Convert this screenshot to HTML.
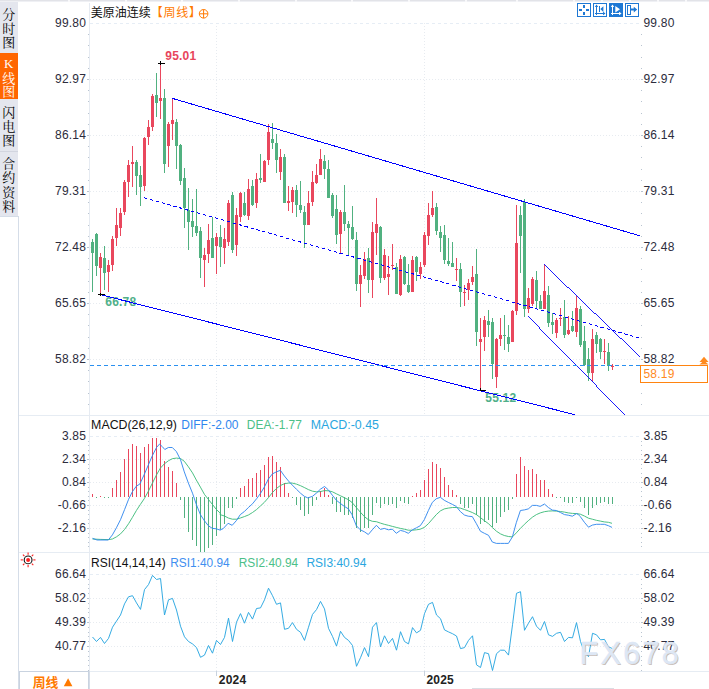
<!DOCTYPE html>
<html><head><meta charset="utf-8"><title>chart</title>
<style>html,body{margin:0;padding:0;background:#fff;overflow:hidden}body{width:709px;height:689px;position:relative}</style></head>
<body>
<svg width="709" height="689" viewBox="0 0 709 689" style="position:absolute;left:0;top:0">
<g shape-rendering="crispEdges">
<rect x="0" y="0" width="709" height="1" fill="#e2e3e8"/><rect x="0" y="1" width="709" height="1" fill="#eff0f4"/>
<rect x="68" y="0" width="2" height="2" fill="#f8f8fa"/>
<rect x="125" y="0" width="2" height="2" fill="#f8f8fa"/>
<rect x="181" y="0" width="2" height="2" fill="#f8f8fa"/>
<rect x="238" y="0" width="2" height="2" fill="#f8f8fa"/>
<rect x="295" y="0" width="2" height="2" fill="#f8f8fa"/>
<rect x="351" y="0" width="2" height="2" fill="#f8f8fa"/>
<rect x="408" y="0" width="2" height="2" fill="#f8f8fa"/>
<rect x="465" y="0" width="2" height="2" fill="#f8f8fa"/>
<rect x="516" y="0" width="2" height="2" fill="#f8f8fa"/>
<rect x="573" y="0" width="2" height="2" fill="#f8f8fa"/>
<rect x="601" y="0" width="2" height="2" fill="#f8f8fa"/>
<rect x="629" y="0" width="2" height="2" fill="#f8f8fa"/>
<rect x="657" y="0" width="2" height="2" fill="#f8f8fa"/>
<rect x="685" y="0" width="2" height="2" fill="#f8f8fa"/>
<rect x="0" y="2" width="18" height="214" fill="#e4e6ee"/>
<rect x="0" y="53" width="18" height="46" fill="#ff6600"/>
<rect x="0" y="151" width="18" height="1" fill="#d2d5df"/>
<rect x="18" y="216" width="1" height="473" fill="#d5dde8"/>
<rect x="0" y="216" width="18" height="1" fill="#d5dde8"/>
<rect x="19" y="415" width="690" height="1" fill="#e6ecf3"/>
<rect x="19" y="552" width="690" height="1" fill="#e6ecf3"/>
<rect x="19" y="671" width="690" height="1" fill="#e6ecf3"/>
<rect x="89" y="3" width="1" height="668" fill="#e6ebf2"/>
<rect x="89" y="671" width="1" height="18" fill="#d5dde8"/>
</g>
<line x1="90" y1="23.5" x2="641" y2="23.5" stroke="#e6edf5" stroke-width="1" stroke-dasharray="3 3" shape-rendering="crispEdges"/>
<line x1="90" y1="79.5" x2="641" y2="79.5" stroke="#e7ebf0" stroke-width="1" stroke-dasharray="1 2" shape-rendering="crispEdges"/>
<line x1="90" y1="135.5" x2="641" y2="135.5" stroke="#e7ebf0" stroke-width="1" stroke-dasharray="1 2" shape-rendering="crispEdges"/>
<line x1="90" y1="191.5" x2="641" y2="191.5" stroke="#e7ebf0" stroke-width="1" stroke-dasharray="1 2" shape-rendering="crispEdges"/>
<line x1="90" y1="247.5" x2="641" y2="247.5" stroke="#e7ebf0" stroke-width="1" stroke-dasharray="1 2" shape-rendering="crispEdges"/>
<line x1="90" y1="303.5" x2="641" y2="303.5" stroke="#e7ebf0" stroke-width="1" stroke-dasharray="1 2" shape-rendering="crispEdges"/>
<line x1="90" y1="359.5" x2="641" y2="359.5" stroke="#e7ebf0" stroke-width="1" stroke-dasharray="1 2" shape-rendering="crispEdges"/>
<line x1="90" y1="436.5" x2="641" y2="436.5" stroke="#e6edf5" stroke-width="1" stroke-dasharray="3 3" shape-rendering="crispEdges"/>
<line x1="90" y1="459.5" x2="641" y2="459.5" stroke="#e7ebf0" stroke-width="1" stroke-dasharray="1 2" shape-rendering="crispEdges"/>
<line x1="90" y1="482.5" x2="641" y2="482.5" stroke="#e7ebf0" stroke-width="1" stroke-dasharray="1 2" shape-rendering="crispEdges"/>
<line x1="90" y1="505.5" x2="641" y2="505.5" stroke="#e7ebf0" stroke-width="1" stroke-dasharray="1 2" shape-rendering="crispEdges"/>
<line x1="90" y1="528.5" x2="641" y2="528.5" stroke="#e7ebf0" stroke-width="1" stroke-dasharray="1 2" shape-rendering="crispEdges"/>
<line x1="90" y1="574.5" x2="641" y2="574.5" stroke="#e6edf5" stroke-width="1" stroke-dasharray="3 3" shape-rendering="crispEdges"/>
<line x1="90" y1="598.5" x2="641" y2="598.5" stroke="#e7ebf0" stroke-width="1" stroke-dasharray="1 2" shape-rendering="crispEdges"/>
<line x1="90" y1="622.5" x2="641" y2="622.5" stroke="#e7ebf0" stroke-width="1" stroke-dasharray="1 2" shape-rendering="crispEdges"/>
<line x1="90" y1="646.5" x2="641" y2="646.5" stroke="#e7ebf0" stroke-width="1" stroke-dasharray="1 2" shape-rendering="crispEdges"/>
<line x1="216.5" y1="23" x2="216.5" y2="415" stroke="#e7ebf0" stroke-width="1" stroke-dasharray="1 2" shape-rendering="crispEdges"/>
<line x1="216.5" y1="436" x2="216.5" y2="552" stroke="#e7ebf0" stroke-width="1" stroke-dasharray="1 2" shape-rendering="crispEdges"/>
<line x1="216.5" y1="574" x2="216.5" y2="671" stroke="#e7ebf0" stroke-width="1" stroke-dasharray="1 2" shape-rendering="crispEdges"/>
<rect x="216" y="671" width="1" height="5" fill="#c9d3df" shape-rendering="crispEdges"/>
<line x1="424.5" y1="23" x2="424.5" y2="415" stroke="#e7ebf0" stroke-width="1" stroke-dasharray="1 2" shape-rendering="crispEdges"/>
<line x1="424.5" y1="436" x2="424.5" y2="552" stroke="#e7ebf0" stroke-width="1" stroke-dasharray="1 2" shape-rendering="crispEdges"/>
<line x1="424.5" y1="574" x2="424.5" y2="671" stroke="#e7ebf0" stroke-width="1" stroke-dasharray="1 2" shape-rendering="crispEdges"/>
<rect x="424" y="671" width="1" height="5" fill="#c9d3df" shape-rendering="crispEdges"/>
<rect x="88" y="34" width="1" height="1" fill="#b9c4d0" shape-rendering="crispEdges"/>
<rect x="641" y="34" width="1" height="1" fill="#b9c4d0" shape-rendering="crispEdges"/>
<rect x="88" y="45" width="1" height="1" fill="#b9c4d0" shape-rendering="crispEdges"/>
<rect x="641" y="45" width="1" height="1" fill="#b9c4d0" shape-rendering="crispEdges"/>
<rect x="88" y="57" width="1" height="1" fill="#b9c4d0" shape-rendering="crispEdges"/>
<rect x="641" y="57" width="1" height="1" fill="#b9c4d0" shape-rendering="crispEdges"/>
<rect x="88" y="68" width="1" height="1" fill="#b9c4d0" shape-rendering="crispEdges"/>
<rect x="641" y="68" width="1" height="1" fill="#b9c4d0" shape-rendering="crispEdges"/>
<rect x="88" y="79" width="1" height="1" fill="#b9c4d0" shape-rendering="crispEdges"/>
<rect x="641" y="79" width="1" height="1" fill="#b9c4d0" shape-rendering="crispEdges"/>
<rect x="88" y="90" width="1" height="1" fill="#b9c4d0" shape-rendering="crispEdges"/>
<rect x="641" y="90" width="1" height="1" fill="#b9c4d0" shape-rendering="crispEdges"/>
<rect x="88" y="101" width="1" height="1" fill="#b9c4d0" shape-rendering="crispEdges"/>
<rect x="641" y="101" width="1" height="1" fill="#b9c4d0" shape-rendering="crispEdges"/>
<rect x="88" y="113" width="1" height="1" fill="#b9c4d0" shape-rendering="crispEdges"/>
<rect x="641" y="113" width="1" height="1" fill="#b9c4d0" shape-rendering="crispEdges"/>
<rect x="88" y="124" width="1" height="1" fill="#b9c4d0" shape-rendering="crispEdges"/>
<rect x="641" y="124" width="1" height="1" fill="#b9c4d0" shape-rendering="crispEdges"/>
<rect x="88" y="135" width="1" height="1" fill="#b9c4d0" shape-rendering="crispEdges"/>
<rect x="641" y="135" width="1" height="1" fill="#b9c4d0" shape-rendering="crispEdges"/>
<rect x="88" y="146" width="1" height="1" fill="#b9c4d0" shape-rendering="crispEdges"/>
<rect x="641" y="146" width="1" height="1" fill="#b9c4d0" shape-rendering="crispEdges"/>
<rect x="88" y="157" width="1" height="1" fill="#b9c4d0" shape-rendering="crispEdges"/>
<rect x="641" y="157" width="1" height="1" fill="#b9c4d0" shape-rendering="crispEdges"/>
<rect x="88" y="169" width="1" height="1" fill="#b9c4d0" shape-rendering="crispEdges"/>
<rect x="641" y="169" width="1" height="1" fill="#b9c4d0" shape-rendering="crispEdges"/>
<rect x="88" y="180" width="1" height="1" fill="#b9c4d0" shape-rendering="crispEdges"/>
<rect x="641" y="180" width="1" height="1" fill="#b9c4d0" shape-rendering="crispEdges"/>
<rect x="88" y="191" width="1" height="1" fill="#b9c4d0" shape-rendering="crispEdges"/>
<rect x="641" y="191" width="1" height="1" fill="#b9c4d0" shape-rendering="crispEdges"/>
<rect x="88" y="202" width="1" height="1" fill="#b9c4d0" shape-rendering="crispEdges"/>
<rect x="641" y="202" width="1" height="1" fill="#b9c4d0" shape-rendering="crispEdges"/>
<rect x="88" y="213" width="1" height="1" fill="#b9c4d0" shape-rendering="crispEdges"/>
<rect x="641" y="213" width="1" height="1" fill="#b9c4d0" shape-rendering="crispEdges"/>
<rect x="88" y="225" width="1" height="1" fill="#b9c4d0" shape-rendering="crispEdges"/>
<rect x="641" y="225" width="1" height="1" fill="#b9c4d0" shape-rendering="crispEdges"/>
<rect x="88" y="236" width="1" height="1" fill="#b9c4d0" shape-rendering="crispEdges"/>
<rect x="641" y="236" width="1" height="1" fill="#b9c4d0" shape-rendering="crispEdges"/>
<rect x="88" y="247" width="1" height="1" fill="#b9c4d0" shape-rendering="crispEdges"/>
<rect x="641" y="247" width="1" height="1" fill="#b9c4d0" shape-rendering="crispEdges"/>
<rect x="88" y="258" width="1" height="1" fill="#b9c4d0" shape-rendering="crispEdges"/>
<rect x="641" y="258" width="1" height="1" fill="#b9c4d0" shape-rendering="crispEdges"/>
<rect x="88" y="269" width="1" height="1" fill="#b9c4d0" shape-rendering="crispEdges"/>
<rect x="641" y="269" width="1" height="1" fill="#b9c4d0" shape-rendering="crispEdges"/>
<rect x="88" y="281" width="1" height="1" fill="#b9c4d0" shape-rendering="crispEdges"/>
<rect x="641" y="281" width="1" height="1" fill="#b9c4d0" shape-rendering="crispEdges"/>
<rect x="88" y="292" width="1" height="1" fill="#b9c4d0" shape-rendering="crispEdges"/>
<rect x="641" y="292" width="1" height="1" fill="#b9c4d0" shape-rendering="crispEdges"/>
<rect x="88" y="303" width="1" height="1" fill="#b9c4d0" shape-rendering="crispEdges"/>
<rect x="641" y="303" width="1" height="1" fill="#b9c4d0" shape-rendering="crispEdges"/>
<rect x="88" y="314" width="1" height="1" fill="#b9c4d0" shape-rendering="crispEdges"/>
<rect x="641" y="314" width="1" height="1" fill="#b9c4d0" shape-rendering="crispEdges"/>
<rect x="88" y="325" width="1" height="1" fill="#b9c4d0" shape-rendering="crispEdges"/>
<rect x="641" y="325" width="1" height="1" fill="#b9c4d0" shape-rendering="crispEdges"/>
<rect x="88" y="337" width="1" height="1" fill="#b9c4d0" shape-rendering="crispEdges"/>
<rect x="641" y="337" width="1" height="1" fill="#b9c4d0" shape-rendering="crispEdges"/>
<rect x="88" y="348" width="1" height="1" fill="#b9c4d0" shape-rendering="crispEdges"/>
<rect x="641" y="348" width="1" height="1" fill="#b9c4d0" shape-rendering="crispEdges"/>
<rect x="88" y="359" width="1" height="1" fill="#b9c4d0" shape-rendering="crispEdges"/>
<rect x="641" y="359" width="1" height="1" fill="#b9c4d0" shape-rendering="crispEdges"/>
<rect x="88" y="370" width="1" height="1" fill="#b9c4d0" shape-rendering="crispEdges"/>
<rect x="641" y="370" width="1" height="1" fill="#b9c4d0" shape-rendering="crispEdges"/>
<rect x="88" y="381" width="1" height="1" fill="#b9c4d0" shape-rendering="crispEdges"/>
<rect x="641" y="381" width="1" height="1" fill="#b9c4d0" shape-rendering="crispEdges"/>
<rect x="88" y="393" width="1" height="1" fill="#b9c4d0" shape-rendering="crispEdges"/>
<rect x="641" y="393" width="1" height="1" fill="#b9c4d0" shape-rendering="crispEdges"/>
<rect x="88" y="404" width="1" height="1" fill="#b9c4d0" shape-rendering="crispEdges"/>
<rect x="641" y="404" width="1" height="1" fill="#b9c4d0" shape-rendering="crispEdges"/>
<rect x="88" y="441" width="1" height="1" fill="#b9c4d0" shape-rendering="crispEdges"/>
<rect x="641" y="441" width="1" height="1" fill="#b9c4d0" shape-rendering="crispEdges"/>
<rect x="88" y="445" width="1" height="1" fill="#b9c4d0" shape-rendering="crispEdges"/>
<rect x="641" y="445" width="1" height="1" fill="#b9c4d0" shape-rendering="crispEdges"/>
<rect x="88" y="450" width="1" height="1" fill="#b9c4d0" shape-rendering="crispEdges"/>
<rect x="641" y="450" width="1" height="1" fill="#b9c4d0" shape-rendering="crispEdges"/>
<rect x="88" y="454" width="1" height="1" fill="#b9c4d0" shape-rendering="crispEdges"/>
<rect x="641" y="454" width="1" height="1" fill="#b9c4d0" shape-rendering="crispEdges"/>
<rect x="88" y="459" width="1" height="1" fill="#b9c4d0" shape-rendering="crispEdges"/>
<rect x="641" y="459" width="1" height="1" fill="#b9c4d0" shape-rendering="crispEdges"/>
<rect x="88" y="464" width="1" height="1" fill="#b9c4d0" shape-rendering="crispEdges"/>
<rect x="641" y="464" width="1" height="1" fill="#b9c4d0" shape-rendering="crispEdges"/>
<rect x="88" y="468" width="1" height="1" fill="#b9c4d0" shape-rendering="crispEdges"/>
<rect x="641" y="468" width="1" height="1" fill="#b9c4d0" shape-rendering="crispEdges"/>
<rect x="88" y="473" width="1" height="1" fill="#b9c4d0" shape-rendering="crispEdges"/>
<rect x="641" y="473" width="1" height="1" fill="#b9c4d0" shape-rendering="crispEdges"/>
<rect x="88" y="477" width="1" height="1" fill="#b9c4d0" shape-rendering="crispEdges"/>
<rect x="641" y="477" width="1" height="1" fill="#b9c4d0" shape-rendering="crispEdges"/>
<rect x="88" y="482" width="1" height="1" fill="#b9c4d0" shape-rendering="crispEdges"/>
<rect x="641" y="482" width="1" height="1" fill="#b9c4d0" shape-rendering="crispEdges"/>
<rect x="88" y="487" width="1" height="1" fill="#b9c4d0" shape-rendering="crispEdges"/>
<rect x="641" y="487" width="1" height="1" fill="#b9c4d0" shape-rendering="crispEdges"/>
<rect x="88" y="491" width="1" height="1" fill="#b9c4d0" shape-rendering="crispEdges"/>
<rect x="641" y="491" width="1" height="1" fill="#b9c4d0" shape-rendering="crispEdges"/>
<rect x="88" y="496" width="1" height="1" fill="#b9c4d0" shape-rendering="crispEdges"/>
<rect x="641" y="496" width="1" height="1" fill="#b9c4d0" shape-rendering="crispEdges"/>
<rect x="88" y="500" width="1" height="1" fill="#b9c4d0" shape-rendering="crispEdges"/>
<rect x="641" y="500" width="1" height="1" fill="#b9c4d0" shape-rendering="crispEdges"/>
<rect x="88" y="505" width="1" height="1" fill="#b9c4d0" shape-rendering="crispEdges"/>
<rect x="641" y="505" width="1" height="1" fill="#b9c4d0" shape-rendering="crispEdges"/>
<rect x="88" y="510" width="1" height="1" fill="#b9c4d0" shape-rendering="crispEdges"/>
<rect x="641" y="510" width="1" height="1" fill="#b9c4d0" shape-rendering="crispEdges"/>
<rect x="88" y="514" width="1" height="1" fill="#b9c4d0" shape-rendering="crispEdges"/>
<rect x="641" y="514" width="1" height="1" fill="#b9c4d0" shape-rendering="crispEdges"/>
<rect x="88" y="519" width="1" height="1" fill="#b9c4d0" shape-rendering="crispEdges"/>
<rect x="641" y="519" width="1" height="1" fill="#b9c4d0" shape-rendering="crispEdges"/>
<rect x="88" y="523" width="1" height="1" fill="#b9c4d0" shape-rendering="crispEdges"/>
<rect x="641" y="523" width="1" height="1" fill="#b9c4d0" shape-rendering="crispEdges"/>
<rect x="88" y="528" width="1" height="1" fill="#b9c4d0" shape-rendering="crispEdges"/>
<rect x="641" y="528" width="1" height="1" fill="#b9c4d0" shape-rendering="crispEdges"/>
<rect x="88" y="533" width="1" height="1" fill="#b9c4d0" shape-rendering="crispEdges"/>
<rect x="641" y="533" width="1" height="1" fill="#b9c4d0" shape-rendering="crispEdges"/>
<rect x="88" y="537" width="1" height="1" fill="#b9c4d0" shape-rendering="crispEdges"/>
<rect x="641" y="537" width="1" height="1" fill="#b9c4d0" shape-rendering="crispEdges"/>
<rect x="88" y="542" width="1" height="1" fill="#b9c4d0" shape-rendering="crispEdges"/>
<rect x="641" y="542" width="1" height="1" fill="#b9c4d0" shape-rendering="crispEdges"/>
<rect x="88" y="546" width="1" height="1" fill="#b9c4d0" shape-rendering="crispEdges"/>
<rect x="641" y="546" width="1" height="1" fill="#b9c4d0" shape-rendering="crispEdges"/>
<rect x="88" y="579" width="1" height="1" fill="#b9c4d0" shape-rendering="crispEdges"/>
<rect x="641" y="579" width="1" height="1" fill="#b9c4d0" shape-rendering="crispEdges"/>
<rect x="88" y="584" width="1" height="1" fill="#b9c4d0" shape-rendering="crispEdges"/>
<rect x="641" y="584" width="1" height="1" fill="#b9c4d0" shape-rendering="crispEdges"/>
<rect x="88" y="588" width="1" height="1" fill="#b9c4d0" shape-rendering="crispEdges"/>
<rect x="641" y="588" width="1" height="1" fill="#b9c4d0" shape-rendering="crispEdges"/>
<rect x="88" y="593" width="1" height="1" fill="#b9c4d0" shape-rendering="crispEdges"/>
<rect x="641" y="593" width="1" height="1" fill="#b9c4d0" shape-rendering="crispEdges"/>
<rect x="88" y="598" width="1" height="1" fill="#b9c4d0" shape-rendering="crispEdges"/>
<rect x="641" y="598" width="1" height="1" fill="#b9c4d0" shape-rendering="crispEdges"/>
<rect x="88" y="603" width="1" height="1" fill="#b9c4d0" shape-rendering="crispEdges"/>
<rect x="641" y="603" width="1" height="1" fill="#b9c4d0" shape-rendering="crispEdges"/>
<rect x="88" y="608" width="1" height="1" fill="#b9c4d0" shape-rendering="crispEdges"/>
<rect x="641" y="608" width="1" height="1" fill="#b9c4d0" shape-rendering="crispEdges"/>
<rect x="88" y="612" width="1" height="1" fill="#b9c4d0" shape-rendering="crispEdges"/>
<rect x="641" y="612" width="1" height="1" fill="#b9c4d0" shape-rendering="crispEdges"/>
<rect x="88" y="617" width="1" height="1" fill="#b9c4d0" shape-rendering="crispEdges"/>
<rect x="641" y="617" width="1" height="1" fill="#b9c4d0" shape-rendering="crispEdges"/>
<rect x="88" y="622" width="1" height="1" fill="#b9c4d0" shape-rendering="crispEdges"/>
<rect x="641" y="622" width="1" height="1" fill="#b9c4d0" shape-rendering="crispEdges"/>
<rect x="88" y="627" width="1" height="1" fill="#b9c4d0" shape-rendering="crispEdges"/>
<rect x="641" y="627" width="1" height="1" fill="#b9c4d0" shape-rendering="crispEdges"/>
<rect x="88" y="632" width="1" height="1" fill="#b9c4d0" shape-rendering="crispEdges"/>
<rect x="641" y="632" width="1" height="1" fill="#b9c4d0" shape-rendering="crispEdges"/>
<rect x="88" y="636" width="1" height="1" fill="#b9c4d0" shape-rendering="crispEdges"/>
<rect x="641" y="636" width="1" height="1" fill="#b9c4d0" shape-rendering="crispEdges"/>
<rect x="88" y="641" width="1" height="1" fill="#b9c4d0" shape-rendering="crispEdges"/>
<rect x="641" y="641" width="1" height="1" fill="#b9c4d0" shape-rendering="crispEdges"/>
<rect x="88" y="646" width="1" height="1" fill="#b9c4d0" shape-rendering="crispEdges"/>
<rect x="641" y="646" width="1" height="1" fill="#b9c4d0" shape-rendering="crispEdges"/>
<rect x="88" y="651" width="1" height="1" fill="#b9c4d0" shape-rendering="crispEdges"/>
<rect x="641" y="651" width="1" height="1" fill="#b9c4d0" shape-rendering="crispEdges"/>
<rect x="88" y="656" width="1" height="1" fill="#b9c4d0" shape-rendering="crispEdges"/>
<rect x="641" y="656" width="1" height="1" fill="#b9c4d0" shape-rendering="crispEdges"/>
<rect x="88" y="660" width="1" height="1" fill="#b9c4d0" shape-rendering="crispEdges"/>
<rect x="641" y="660" width="1" height="1" fill="#b9c4d0" shape-rendering="crispEdges"/>
<rect x="88" y="665" width="1" height="1" fill="#b9c4d0" shape-rendering="crispEdges"/>
<rect x="641" y="665" width="1" height="1" fill="#b9c4d0" shape-rendering="crispEdges"/>
<rect x="88" y="670" width="1" height="1" fill="#b9c4d0" shape-rendering="crispEdges"/>
<rect x="641" y="670" width="1" height="1" fill="#b9c4d0" shape-rendering="crispEdges"/>
<rect x="87" y="79" width="2" height="1" fill="#b9c4d0" shape-rendering="crispEdges"/>
<rect x="641" y="79" width="2" height="1" fill="#b9c4d0" shape-rendering="crispEdges"/>
<rect x="87" y="135" width="2" height="1" fill="#b9c4d0" shape-rendering="crispEdges"/>
<rect x="641" y="135" width="2" height="1" fill="#b9c4d0" shape-rendering="crispEdges"/>
<rect x="87" y="191" width="2" height="1" fill="#b9c4d0" shape-rendering="crispEdges"/>
<rect x="641" y="191" width="2" height="1" fill="#b9c4d0" shape-rendering="crispEdges"/>
<rect x="87" y="247" width="2" height="1" fill="#b9c4d0" shape-rendering="crispEdges"/>
<rect x="641" y="247" width="2" height="1" fill="#b9c4d0" shape-rendering="crispEdges"/>
<rect x="87" y="303" width="2" height="1" fill="#b9c4d0" shape-rendering="crispEdges"/>
<rect x="641" y="303" width="2" height="1" fill="#b9c4d0" shape-rendering="crispEdges"/>
<rect x="87" y="359" width="2" height="1" fill="#b9c4d0" shape-rendering="crispEdges"/>
<rect x="641" y="359" width="2" height="1" fill="#b9c4d0" shape-rendering="crispEdges"/>
<rect x="87" y="459" width="2" height="1" fill="#b9c4d0" shape-rendering="crispEdges"/>
<rect x="641" y="459" width="2" height="1" fill="#b9c4d0" shape-rendering="crispEdges"/>
<rect x="87" y="482" width="2" height="1" fill="#b9c4d0" shape-rendering="crispEdges"/>
<rect x="641" y="482" width="2" height="1" fill="#b9c4d0" shape-rendering="crispEdges"/>
<rect x="87" y="505" width="2" height="1" fill="#b9c4d0" shape-rendering="crispEdges"/>
<rect x="641" y="505" width="2" height="1" fill="#b9c4d0" shape-rendering="crispEdges"/>
<rect x="87" y="528" width="2" height="1" fill="#b9c4d0" shape-rendering="crispEdges"/>
<rect x="641" y="528" width="2" height="1" fill="#b9c4d0" shape-rendering="crispEdges"/>
<rect x="87" y="598" width="2" height="1" fill="#b9c4d0" shape-rendering="crispEdges"/>
<rect x="641" y="598" width="2" height="1" fill="#b9c4d0" shape-rendering="crispEdges"/>
<rect x="87" y="622" width="2" height="1" fill="#b9c4d0" shape-rendering="crispEdges"/>
<rect x="641" y="622" width="2" height="1" fill="#b9c4d0" shape-rendering="crispEdges"/>
<rect x="87" y="646" width="2" height="1" fill="#b9c4d0" shape-rendering="crispEdges"/>
<rect x="641" y="646" width="2" height="1" fill="#b9c4d0" shape-rendering="crispEdges"/>
<g shape-rendering="crispEdges">
<rect x="92" y="239" width="1" height="53" fill="#51b180"/>
<rect x="91" y="242" width="3" height="11" fill="#51b180"/>
<rect x="96" y="233" width="1" height="43" fill="#51b180"/>
<rect x="95" y="234" width="3" height="32" fill="#51b180"/>
<rect x="100" y="253" width="1" height="41" fill="#e9475d"/>
<rect x="99" y="257" width="3" height="11" fill="#e9475d"/>
<rect x="104" y="246" width="1" height="44" fill="#51b180"/>
<rect x="103" y="258" width="3" height="15" fill="#51b180"/>
<rect x="108" y="260" width="1" height="32" fill="#e9475d"/>
<rect x="107" y="265" width="3" height="7" fill="#e9475d"/>
<rect x="112" y="236" width="1" height="35" fill="#e9475d"/>
<rect x="111" y="239" width="3" height="26" fill="#e9475d"/>
<rect x="116" y="208" width="1" height="38" fill="#e9475d"/>
<rect x="115" y="225" width="3" height="13" fill="#e9475d"/>
<rect x="120" y="208" width="1" height="28" fill="#e9475d"/>
<rect x="119" y="213" width="3" height="15" fill="#e9475d"/>
<rect x="124" y="180" width="1" height="35" fill="#e9475d"/>
<rect x="123" y="182" width="3" height="30" fill="#e9475d"/>
<rect x="128" y="160" width="1" height="37" fill="#e9475d"/>
<rect x="127" y="165" width="3" height="17" fill="#e9475d"/>
<rect x="132" y="146" width="1" height="41" fill="#e9475d"/>
<rect x="131" y="162" width="3" height="2" fill="#e9475d"/>
<rect x="136" y="160" width="1" height="35" fill="#51b180"/>
<rect x="135" y="162" width="3" height="14" fill="#51b180"/>
<rect x="140" y="166" width="1" height="40" fill="#51b180"/>
<rect x="139" y="175" width="3" height="12" fill="#51b180"/>
<rect x="144" y="137" width="1" height="54" fill="#e9475d"/>
<rect x="143" y="138" width="3" height="48" fill="#e9475d"/>
<rect x="148" y="120" width="1" height="25" fill="#e9475d"/>
<rect x="147" y="127" width="3" height="10" fill="#e9475d"/>
<rect x="152" y="94" width="1" height="37" fill="#e9475d"/>
<rect x="151" y="96" width="3" height="31" fill="#e9475d"/>
<rect x="156" y="73" width="1" height="44" fill="#51b180"/>
<rect x="155" y="95" width="3" height="8" fill="#51b180"/>
<rect x="160" y="63" width="1" height="56" fill="#e9475d"/>
<rect x="159" y="98" width="3" height="3" fill="#e9475d"/>
<rect x="164" y="89" width="1" height="84" fill="#51b180"/>
<rect x="163" y="98" width="3" height="66" fill="#51b180"/>
<rect x="168" y="122" width="1" height="45" fill="#e9475d"/>
<rect x="167" y="124" width="3" height="22" fill="#e9475d"/>
<rect x="172" y="98" width="1" height="42" fill="#e9475d"/>
<rect x="171" y="120" width="3" height="4" fill="#e9475d"/>
<rect x="176" y="119" width="1" height="50" fill="#51b180"/>
<rect x="175" y="122" width="3" height="24" fill="#51b180"/>
<rect x="180" y="144" width="1" height="41" fill="#51b180"/>
<rect x="179" y="145" width="3" height="36" fill="#51b180"/>
<rect x="184" y="168" width="1" height="60" fill="#51b180"/>
<rect x="183" y="178" width="3" height="30" fill="#51b180"/>
<rect x="188" y="188" width="1" height="62" fill="#51b180"/>
<rect x="187" y="210" width="3" height="12" fill="#51b180"/>
<rect x="192" y="199" width="1" height="38" fill="#51b180"/>
<rect x="191" y="221" width="3" height="6" fill="#51b180"/>
<rect x="196" y="189" width="1" height="47" fill="#51b180"/>
<rect x="195" y="226" width="3" height="7" fill="#51b180"/>
<rect x="200" y="227" width="1" height="51" fill="#51b180"/>
<rect x="199" y="231" width="3" height="27" fill="#51b180"/>
<rect x="204" y="248" width="1" height="39" fill="#e9475d"/>
<rect x="203" y="255" width="3" height="5" fill="#e9475d"/>
<rect x="208" y="224" width="1" height="39" fill="#e9475d"/>
<rect x="207" y="240" width="3" height="14" fill="#e9475d"/>
<rect x="212" y="217" width="1" height="41" fill="#51b180"/>
<rect x="211" y="238" width="3" height="20" fill="#51b180"/>
<rect x="216" y="233" width="1" height="41" fill="#e9475d"/>
<rect x="215" y="237" width="3" height="9" fill="#e9475d"/>
<rect x="220" y="225" width="1" height="42" fill="#51b180"/>
<rect x="219" y="237" width="3" height="10" fill="#51b180"/>
<rect x="224" y="228" width="1" height="36" fill="#e9475d"/>
<rect x="223" y="239" width="3" height="9" fill="#e9475d"/>
<rect x="228" y="200" width="1" height="46" fill="#e9475d"/>
<rect x="227" y="203" width="3" height="39" fill="#e9475d"/>
<rect x="232" y="192" width="1" height="61" fill="#51b180"/>
<rect x="231" y="195" width="3" height="55" fill="#51b180"/>
<rect x="236" y="208" width="1" height="48" fill="#e9475d"/>
<rect x="235" y="215" width="3" height="30" fill="#e9475d"/>
<rect x="240" y="192" width="1" height="30" fill="#e9475d"/>
<rect x="239" y="193" width="3" height="24" fill="#e9475d"/>
<rect x="244" y="192" width="1" height="24" fill="#51b180"/>
<rect x="243" y="203" width="3" height="12" fill="#51b180"/>
<rect x="248" y="179" width="1" height="41" fill="#e9475d"/>
<rect x="247" y="189" width="3" height="27" fill="#e9475d"/>
<rect x="252" y="180" width="1" height="26" fill="#51b180"/>
<rect x="251" y="186" width="3" height="19" fill="#51b180"/>
<rect x="256" y="173" width="1" height="35" fill="#e9475d"/>
<rect x="255" y="179" width="3" height="24" fill="#e9475d"/>
<rect x="260" y="154" width="1" height="29" fill="#51b180"/>
<rect x="259" y="178" width="3" height="2" fill="#51b180"/>
<rect x="264" y="160" width="1" height="22" fill="#e9475d"/>
<rect x="263" y="161" width="3" height="21" fill="#e9475d"/>
<rect x="268" y="124" width="1" height="41" fill="#e9475d"/>
<rect x="267" y="132" width="3" height="28" fill="#e9475d"/>
<rect x="272" y="123" width="1" height="26" fill="#51b180"/>
<rect x="271" y="139" width="3" height="4" fill="#51b180"/>
<rect x="276" y="134" width="1" height="39" fill="#51b180"/>
<rect x="275" y="143" width="3" height="17" fill="#51b180"/>
<rect x="280" y="149" width="1" height="31" fill="#e9475d"/>
<rect x="279" y="157" width="3" height="15" fill="#e9475d"/>
<rect x="284" y="154" width="1" height="49" fill="#51b180"/>
<rect x="283" y="157" width="3" height="46" fill="#51b180"/>
<rect x="288" y="186" width="1" height="25" fill="#e9475d"/>
<rect x="287" y="201" width="3" height="2" fill="#e9475d"/>
<rect x="292" y="187" width="1" height="26" fill="#e9475d"/>
<rect x="291" y="190" width="3" height="12" fill="#e9475d"/>
<rect x="296" y="185" width="1" height="32" fill="#51b180"/>
<rect x="295" y="190" width="3" height="15" fill="#51b180"/>
<rect x="300" y="181" width="1" height="32" fill="#51b180"/>
<rect x="299" y="205" width="3" height="5" fill="#51b180"/>
<rect x="304" y="206" width="1" height="42" fill="#51b180"/>
<rect x="303" y="212" width="3" height="13" fill="#51b180"/>
<rect x="308" y="191" width="1" height="34" fill="#e9475d"/>
<rect x="307" y="203" width="3" height="22" fill="#e9475d"/>
<rect x="312" y="171" width="1" height="35" fill="#e9475d"/>
<rect x="311" y="182" width="3" height="20" fill="#e9475d"/>
<rect x="316" y="164" width="1" height="20" fill="#e9475d"/>
<rect x="315" y="175" width="3" height="8" fill="#e9475d"/>
<rect x="320" y="149" width="1" height="26" fill="#e9475d"/>
<rect x="319" y="159" width="3" height="16" fill="#e9475d"/>
<rect x="324" y="155" width="1" height="24" fill="#51b180"/>
<rect x="323" y="161" width="3" height="8" fill="#51b180"/>
<rect x="328" y="160" width="1" height="38" fill="#51b180"/>
<rect x="327" y="169" width="3" height="29" fill="#51b180"/>
<rect x="332" y="193" width="1" height="25" fill="#51b180"/>
<rect x="331" y="195" width="3" height="21" fill="#51b180"/>
<rect x="336" y="195" width="1" height="49" fill="#51b180"/>
<rect x="335" y="209" width="3" height="26" fill="#51b180"/>
<rect x="340" y="210" width="1" height="43" fill="#e9475d"/>
<rect x="339" y="212" width="3" height="22" fill="#e9475d"/>
<rect x="344" y="185" width="1" height="46" fill="#51b180"/>
<rect x="343" y="212" width="3" height="12" fill="#51b180"/>
<rect x="348" y="221" width="1" height="34" fill="#51b180"/>
<rect x="347" y="224" width="3" height="4" fill="#51b180"/>
<rect x="352" y="206" width="1" height="34" fill="#51b180"/>
<rect x="351" y="227" width="3" height="12" fill="#51b180"/>
<rect x="356" y="232" width="1" height="59" fill="#51b180"/>
<rect x="355" y="240" width="3" height="44" fill="#51b180"/>
<rect x="360" y="265" width="1" height="42" fill="#e9475d"/>
<rect x="359" y="275" width="3" height="9" fill="#e9475d"/>
<rect x="364" y="252" width="1" height="27" fill="#e9475d"/>
<rect x="363" y="259" width="3" height="17" fill="#e9475d"/>
<rect x="368" y="248" width="1" height="45" fill="#51b180"/>
<rect x="367" y="258" width="3" height="22" fill="#51b180"/>
<rect x="372" y="222" width="1" height="76" fill="#e9475d"/>
<rect x="371" y="232" width="3" height="48" fill="#e9475d"/>
<rect x="376" y="198" width="1" height="57" fill="#e9475d"/>
<rect x="375" y="224" width="3" height="9" fill="#e9475d"/>
<rect x="380" y="226" width="1" height="57" fill="#51b180"/>
<rect x="379" y="227" width="3" height="51" fill="#51b180"/>
<rect x="384" y="249" width="1" height="31" fill="#e9475d"/>
<rect x="383" y="255" width="3" height="23" fill="#e9475d"/>
<rect x="388" y="256" width="1" height="39" fill="#e9475d"/>
<rect x="387" y="274" width="3" height="3" fill="#e9475d"/>
<rect x="392" y="244" width="1" height="26" fill="#e9475d"/>
<rect x="391" y="265" width="3" height="1" fill="#e9475d"/>
<rect x="396" y="263" width="1" height="31" fill="#51b180"/>
<rect x="395" y="267" width="3" height="27" fill="#51b180"/>
<rect x="400" y="255" width="1" height="41" fill="#e9475d"/>
<rect x="399" y="259" width="3" height="36" fill="#e9475d"/>
<rect x="404" y="256" width="1" height="29" fill="#51b180"/>
<rect x="403" y="257" width="3" height="27" fill="#51b180"/>
<rect x="408" y="264" width="1" height="29" fill="#51b180"/>
<rect x="407" y="285" width="3" height="7" fill="#51b180"/>
<rect x="412" y="256" width="1" height="36" fill="#e9475d"/>
<rect x="411" y="260" width="3" height="32" fill="#e9475d"/>
<rect x="416" y="256" width="1" height="25" fill="#51b180"/>
<rect x="415" y="257" width="3" height="15" fill="#51b180"/>
<rect x="420" y="262" width="1" height="17" fill="#e9475d"/>
<rect x="419" y="267" width="3" height="7" fill="#e9475d"/>
<rect x="424" y="232" width="1" height="35" fill="#e9475d"/>
<rect x="423" y="235" width="3" height="30" fill="#e9475d"/>
<rect x="428" y="203" width="1" height="42" fill="#e9475d"/>
<rect x="427" y="215" width="3" height="21" fill="#e9475d"/>
<rect x="432" y="191" width="1" height="26" fill="#e9475d"/>
<rect x="431" y="208" width="3" height="7" fill="#e9475d"/>
<rect x="436" y="203" width="1" height="32" fill="#51b180"/>
<rect x="435" y="207" width="3" height="24" fill="#51b180"/>
<rect x="440" y="226" width="1" height="26" fill="#51b180"/>
<rect x="439" y="232" width="3" height="6" fill="#51b180"/>
<rect x="444" y="225" width="1" height="39" fill="#51b180"/>
<rect x="443" y="235" width="3" height="25" fill="#51b180"/>
<rect x="448" y="238" width="1" height="28" fill="#51b180"/>
<rect x="447" y="261" width="3" height="3" fill="#51b180"/>
<rect x="452" y="242" width="1" height="25" fill="#51b180"/>
<rect x="451" y="263" width="3" height="4" fill="#51b180"/>
<rect x="456" y="258" width="1" height="23" fill="#e9475d"/>
<rect x="455" y="269" width="3" height="1" fill="#e9475d"/>
<rect x="460" y="263" width="1" height="44" fill="#51b180"/>
<rect x="459" y="269" width="3" height="23" fill="#51b180"/>
<rect x="464" y="285" width="1" height="21" fill="#e9475d"/>
<rect x="463" y="292" width="3" height="1" fill="#e9475d"/>
<rect x="468" y="279" width="1" height="21" fill="#e9475d"/>
<rect x="467" y="283" width="3" height="7" fill="#e9475d"/>
<rect x="472" y="266" width="1" height="19" fill="#e9475d"/>
<rect x="471" y="277" width="3" height="5" fill="#e9475d"/>
<rect x="476" y="249" width="1" height="97" fill="#51b180"/>
<rect x="475" y="274" width="3" height="58" fill="#51b180"/>
<rect x="480" y="318" width="1" height="71" fill="#e9475d"/>
<rect x="479" y="339" width="3" height="3" fill="#e9475d"/>
<rect x="484" y="316" width="1" height="35" fill="#e9475d"/>
<rect x="483" y="320" width="3" height="17" fill="#e9475d"/>
<rect x="488" y="310" width="1" height="27" fill="#51b180"/>
<rect x="487" y="321" width="3" height="4" fill="#51b180"/>
<rect x="492" y="318" width="1" height="61" fill="#51b180"/>
<rect x="491" y="322" width="3" height="42" fill="#51b180"/>
<rect x="496" y="338" width="1" height="50" fill="#e9475d"/>
<rect x="495" y="339" width="3" height="38" fill="#e9475d"/>
<rect x="500" y="318" width="1" height="28" fill="#e9475d"/>
<rect x="499" y="335" width="3" height="4" fill="#e9475d"/>
<rect x="504" y="315" width="1" height="35" fill="#51b180"/>
<rect x="503" y="335" width="3" height="1" fill="#51b180"/>
<rect x="508" y="325" width="1" height="27" fill="#51b180"/>
<rect x="507" y="337" width="3" height="7" fill="#51b180"/>
<rect x="512" y="310" width="1" height="32" fill="#e9475d"/>
<rect x="511" y="311" width="3" height="31" fill="#e9475d"/>
<rect x="516" y="205" width="1" height="110" fill="#e9475d"/>
<rect x="515" y="243" width="3" height="68" fill="#e9475d"/>
<rect x="520" y="206" width="1" height="67" fill="#51b180"/>
<rect x="519" y="215" width="3" height="21" fill="#51b180"/>
<rect x="524" y="199" width="1" height="118" fill="#51b180"/>
<rect x="523" y="202" width="3" height="107" fill="#51b180"/>
<rect x="528" y="288" width="1" height="25" fill="#e9475d"/>
<rect x="527" y="298" width="3" height="11" fill="#e9475d"/>
<rect x="532" y="277" width="1" height="29" fill="#e9475d"/>
<rect x="531" y="279" width="3" height="25" fill="#e9475d"/>
<rect x="536" y="271" width="1" height="37" fill="#51b180"/>
<rect x="535" y="280" width="3" height="21" fill="#51b180"/>
<rect x="540" y="295" width="1" height="14" fill="#51b180"/>
<rect x="539" y="301" width="3" height="8" fill="#51b180"/>
<rect x="544" y="265" width="1" height="44" fill="#e9475d"/>
<rect x="543" y="291" width="3" height="18" fill="#e9475d"/>
<rect x="548" y="286" width="1" height="41" fill="#51b180"/>
<rect x="547" y="295" width="3" height="28" fill="#51b180"/>
<rect x="552" y="313" width="1" height="21" fill="#51b180"/>
<rect x="551" y="322" width="3" height="3" fill="#51b180"/>
<rect x="556" y="318" width="1" height="20" fill="#e9475d"/>
<rect x="555" y="320" width="3" height="13" fill="#e9475d"/>
<rect x="560" y="308" width="1" height="18" fill="#e9475d"/>
<rect x="559" y="318" width="3" height="1" fill="#e9475d"/>
<rect x="564" y="300" width="1" height="38" fill="#51b180"/>
<rect x="563" y="317" width="3" height="18" fill="#51b180"/>
<rect x="568" y="316" width="1" height="19" fill="#e9475d"/>
<rect x="567" y="330" width="3" height="4" fill="#e9475d"/>
<rect x="572" y="311" width="1" height="21" fill="#51b180"/>
<rect x="571" y="326" width="3" height="5" fill="#51b180"/>
<rect x="576" y="296" width="1" height="41" fill="#e9475d"/>
<rect x="575" y="308" width="3" height="24" fill="#e9475d"/>
<rect x="580" y="306" width="1" height="41" fill="#51b180"/>
<rect x="579" y="309" width="3" height="36" fill="#51b180"/>
<rect x="584" y="326" width="1" height="40" fill="#51b180"/>
<rect x="583" y="341" width="3" height="24" fill="#51b180"/>
<rect x="588" y="348" width="1" height="33" fill="#51b180"/>
<rect x="587" y="359" width="3" height="14" fill="#51b180"/>
<rect x="592" y="329" width="1" height="53" fill="#e9475d"/>
<rect x="591" y="339" width="3" height="34" fill="#e9475d"/>
<rect x="596" y="332" width="1" height="21" fill="#51b180"/>
<rect x="595" y="335" width="3" height="9" fill="#51b180"/>
<rect x="600" y="338" width="1" height="21" fill="#51b180"/>
<rect x="599" y="339" width="3" height="13" fill="#51b180"/>
<rect x="604" y="339" width="1" height="25" fill="#e9475d"/>
<rect x="603" y="351" width="3" height="1" fill="#e9475d"/>
<rect x="608" y="343" width="1" height="28" fill="#51b180"/>
<rect x="607" y="352" width="3" height="14" fill="#51b180"/>
<rect x="612" y="364" width="1" height="6" fill="#e9475d"/>
<rect x="611" y="366" width="3" height="1" fill="#e9475d"/>
</g>
<text x="105.3" y="306.2" font-size="12" fill="#4fb08a" text-anchor="start" font-weight="bold" font-family="Liberation Sans, Arial, sans-serif" letter-spacing="0.2">66.78</text>
<text x="485.3" y="402.2" font-size="12" fill="#4fb08a" text-anchor="start" font-weight="bold" font-family="Liberation Sans, Arial, sans-serif" letter-spacing="0.2">55.12</text>
<line x1="172.5" y1="98.4" x2="639.5" y2="235.7" stroke="#0000ff" stroke-width="1" shape-rendering="crispEdges"/>
<line x1="100.2" y1="294.6" x2="575.0" y2="414.7" stroke="#0000ff" stroke-width="1" shape-rendering="crispEdges"/>
<line x1="143.7" y1="197.6" x2="639.4" y2="338.0" stroke="#0000ff" stroke-width="1" stroke-dasharray="3.3 2.867" shape-rendering="crispEdges"/>
<line x1="544.4" y1="264.8" x2="639.8" y2="356.6" stroke="#0000ff" stroke-width="0.9" shape-rendering="crispEdges"/>
<line x1="528.0" y1="316.3" x2="624.7" y2="414.7" stroke="#0000ff" stroke-width="0.9" shape-rendering="crispEdges"/>
<line x1="90" y1="365.5" x2="641" y2="365.5" stroke="#2a90f0" stroke-width="1" stroke-dasharray="4 3" shape-rendering="crispEdges"/>
<g stroke="#000" stroke-width="1" shape-rendering="crispEdges">
<line x1="158" y1="63.5" x2="165" y2="63.5"/><line x1="160.5" y1="61" x2="160.5" y2="65"/>
<line x1="98" y1="294.5" x2="105" y2="294.5"/><line x1="100.5" y1="293" x2="100.5" y2="296"/>
<line x1="480" y1="390.5" x2="486" y2="390.5"/><line x1="480.5" y1="388" x2="480.5" y2="391"/>
</g>
<g shape-rendering="crispEdges">
<rect x="92" y="494" width="1" height="3" fill="#e9475d"/>
<rect x="96" y="497" width="1" height="1" fill="#51b180"/>
<rect x="100" y="496" width="1" height="1" fill="#e9475d"/>
<rect x="104" y="497" width="1" height="1" fill="#51b180"/>
<rect x="108" y="497" width="1" height="1" fill="#51b180"/>
<rect x="112" y="488" width="1" height="9" fill="#e9475d"/>
<rect x="116" y="480" width="1" height="17" fill="#e9475d"/>
<rect x="120" y="472" width="1" height="25" fill="#e9475d"/>
<rect x="124" y="459" width="1" height="38" fill="#e9475d"/>
<rect x="128" y="449" width="1" height="48" fill="#e9475d"/>
<rect x="132" y="444" width="1" height="53" fill="#e9475d"/>
<rect x="136" y="446" width="1" height="51" fill="#e9475d"/>
<rect x="140" y="453" width="1" height="44" fill="#e9475d"/>
<rect x="144" y="447" width="1" height="50" fill="#e9475d"/>
<rect x="148" y="444" width="1" height="53" fill="#e9475d"/>
<rect x="152" y="438" width="1" height="59" fill="#e9475d"/>
<rect x="156" y="438" width="1" height="59" fill="#e9475d"/>
<rect x="160" y="440" width="1" height="57" fill="#e9475d"/>
<rect x="164" y="461" width="1" height="36" fill="#e9475d"/>
<rect x="168" y="467" width="1" height="30" fill="#e9475d"/>
<rect x="172" y="471" width="1" height="26" fill="#e9475d"/>
<rect x="176" y="483" width="1" height="14" fill="#e9475d"/>
<rect x="180" y="497" width="1" height="3" fill="#51b180"/>
<rect x="184" y="497" width="1" height="21" fill="#51b180"/>
<rect x="188" y="497" width="1" height="35" fill="#51b180"/>
<rect x="192" y="497" width="1" height="43" fill="#51b180"/>
<rect x="196" y="497" width="1" height="49" fill="#51b180"/>
<rect x="200" y="497" width="1" height="55" fill="#51b180"/>
<rect x="204" y="497" width="1" height="55" fill="#51b180"/>
<rect x="208" y="497" width="1" height="51" fill="#51b180"/>
<rect x="212" y="497" width="1" height="48" fill="#51b180"/>
<rect x="216" y="497" width="1" height="39" fill="#51b180"/>
<rect x="220" y="497" width="1" height="32" fill="#51b180"/>
<rect x="224" y="497" width="1" height="27" fill="#51b180"/>
<rect x="228" y="497" width="1" height="11" fill="#51b180"/>
<rect x="232" y="497" width="1" height="11" fill="#51b180"/>
<rect x="236" y="497" width="1" height="2" fill="#51b180"/>
<rect x="240" y="488" width="1" height="9" fill="#e9475d"/>
<rect x="244" y="486" width="1" height="11" fill="#e9475d"/>
<rect x="248" y="479" width="1" height="18" fill="#e9475d"/>
<rect x="252" y="478" width="1" height="19" fill="#e9475d"/>
<rect x="256" y="473" width="1" height="24" fill="#e9475d"/>
<rect x="260" y="470" width="1" height="27" fill="#e9475d"/>
<rect x="264" y="465" width="1" height="32" fill="#e9475d"/>
<rect x="268" y="457" width="1" height="40" fill="#e9475d"/>
<rect x="272" y="456" width="1" height="41" fill="#e9475d"/>
<rect x="276" y="462" width="1" height="35" fill="#e9475d"/>
<rect x="280" y="467" width="1" height="30" fill="#e9475d"/>
<rect x="284" y="483" width="1" height="14" fill="#e9475d"/>
<rect x="288" y="493" width="1" height="4" fill="#e9475d"/>
<rect x="292" y="497" width="1" height="1" fill="#51b180"/>
<rect x="296" y="497" width="1" height="8" fill="#51b180"/>
<rect x="300" y="497" width="1" height="13" fill="#51b180"/>
<rect x="304" y="497" width="1" height="19" fill="#51b180"/>
<rect x="308" y="497" width="1" height="17" fill="#51b180"/>
<rect x="312" y="497" width="1" height="9" fill="#51b180"/>
<rect x="316" y="497" width="1" height="3" fill="#51b180"/>
<rect x="320" y="491" width="1" height="6" fill="#e9475d"/>
<rect x="324" y="488" width="1" height="9" fill="#e9475d"/>
<rect x="328" y="495" width="1" height="2" fill="#e9475d"/>
<rect x="332" y="497" width="1" height="7" fill="#51b180"/>
<rect x="336" y="497" width="1" height="15" fill="#51b180"/>
<rect x="340" y="497" width="1" height="15" fill="#51b180"/>
<rect x="344" y="497" width="1" height="18" fill="#51b180"/>
<rect x="348" y="497" width="1" height="18" fill="#51b180"/>
<rect x="352" y="497" width="1" height="21" fill="#51b180"/>
<rect x="356" y="497" width="1" height="31" fill="#51b180"/>
<rect x="360" y="497" width="1" height="35" fill="#51b180"/>
<rect x="364" y="497" width="1" height="31" fill="#51b180"/>
<rect x="368" y="497" width="1" height="31" fill="#51b180"/>
<rect x="372" y="497" width="1" height="18" fill="#51b180"/>
<rect x="376" y="497" width="1" height="6" fill="#51b180"/>
<rect x="380" y="497" width="1" height="11" fill="#51b180"/>
<rect x="384" y="497" width="1" height="7" fill="#51b180"/>
<rect x="388" y="497" width="1" height="8" fill="#51b180"/>
<rect x="392" y="497" width="1" height="7" fill="#51b180"/>
<rect x="396" y="497" width="1" height="11" fill="#51b180"/>
<rect x="400" y="497" width="1" height="4" fill="#51b180"/>
<rect x="404" y="497" width="1" height="6" fill="#51b180"/>
<rect x="408" y="497" width="1" height="7" fill="#51b180"/>
<rect x="412" y="496" width="1" height="1" fill="#e9475d"/>
<rect x="416" y="493" width="1" height="4" fill="#e9475d"/>
<rect x="420" y="490" width="1" height="7" fill="#e9475d"/>
<rect x="424" y="480" width="1" height="17" fill="#e9475d"/>
<rect x="428" y="469" width="1" height="28" fill="#e9475d"/>
<rect x="432" y="462" width="1" height="35" fill="#e9475d"/>
<rect x="436" y="464" width="1" height="33" fill="#e9475d"/>
<rect x="440" y="468" width="1" height="29" fill="#e9475d"/>
<rect x="444" y="477" width="1" height="20" fill="#e9475d"/>
<rect x="448" y="485" width="1" height="12" fill="#e9475d"/>
<rect x="452" y="490" width="1" height="7" fill="#e9475d"/>
<rect x="456" y="495" width="1" height="2" fill="#e9475d"/>
<rect x="460" y="497" width="1" height="7" fill="#51b180"/>
<rect x="464" y="497" width="1" height="11" fill="#51b180"/>
<rect x="468" y="497" width="1" height="11" fill="#51b180"/>
<rect x="472" y="497" width="1" height="7" fill="#51b180"/>
<rect x="476" y="497" width="1" height="18" fill="#51b180"/>
<rect x="480" y="497" width="1" height="27" fill="#51b180"/>
<rect x="484" y="497" width="1" height="25" fill="#51b180"/>
<rect x="488" y="497" width="1" height="23" fill="#51b180"/>
<rect x="492" y="497" width="1" height="30" fill="#51b180"/>
<rect x="496" y="497" width="1" height="26" fill="#51b180"/>
<rect x="500" y="497" width="1" height="20" fill="#51b180"/>
<rect x="504" y="497" width="1" height="15" fill="#51b180"/>
<rect x="508" y="497" width="1" height="13" fill="#51b180"/>
<rect x="512" y="497" width="1" height="2" fill="#51b180"/>
<rect x="516" y="474" width="1" height="23" fill="#e9475d"/>
<rect x="520" y="457" width="1" height="40" fill="#e9475d"/>
<rect x="524" y="466" width="1" height="31" fill="#e9475d"/>
<rect x="528" y="470" width="1" height="27" fill="#e9475d"/>
<rect x="532" y="469" width="1" height="28" fill="#e9475d"/>
<rect x="536" y="474" width="1" height="23" fill="#e9475d"/>
<rect x="540" y="480" width="1" height="17" fill="#e9475d"/>
<rect x="544" y="480" width="1" height="17" fill="#e9475d"/>
<rect x="548" y="489" width="1" height="8" fill="#e9475d"/>
<rect x="552" y="494" width="1" height="3" fill="#e9475d"/>
<rect x="556" y="497" width="1" height="1" fill="#51b180"/>
<rect x="560" y="497" width="1" height="1" fill="#51b180"/>
<rect x="564" y="497" width="1" height="5" fill="#51b180"/>
<rect x="568" y="497" width="1" height="6" fill="#51b180"/>
<rect x="572" y="497" width="1" height="6" fill="#51b180"/>
<rect x="576" y="497" width="1" height="1" fill="#51b180"/>
<rect x="580" y="497" width="1" height="5" fill="#51b180"/>
<rect x="584" y="497" width="1" height="11" fill="#51b180"/>
<rect x="588" y="497" width="1" height="18" fill="#51b180"/>
<rect x="592" y="497" width="1" height="11" fill="#51b180"/>
<rect x="596" y="497" width="1" height="8" fill="#51b180"/>
<rect x="600" y="497" width="1" height="6" fill="#51b180"/>
<rect x="604" y="497" width="1" height="5" fill="#51b180"/>
<rect x="608" y="497" width="1" height="7" fill="#51b180"/>
<rect x="612" y="497" width="1" height="7" fill="#51b180"/>
</g>
<polyline points="92.5,539.0 100.2,539.4 108.3,539.6 112.4,539.0 116.4,536.9 120.5,533.9 124.6,529.4 128.6,523.7 132.3,517.6 136.4,510.5 140.4,504.4 144.5,498.3 148.4,491.2 152.4,483.1 156.5,474.9 160.3,468.2 164.4,463.8 168.5,460.7 172.3,458.7 176.4,458.1 180.5,458.5 184.3,461.3 188.4,466.8 192.5,472.9 196.3,480.0 200.4,487.1 204.4,494.3 208.3,499.3 212.4,504.4 216.4,509.5 220.3,513.2 220.0,514.6 224.5,516.0 228.3,518.0 232.4,519.2 236.5,519.2 240.3,518.0 244.4,516.6 248.4,515.0 252.5,512.5 256.6,509.5 260.6,505.8 264.3,502.4 268.4,497.7 272.4,492.6 276.3,488.6 280.4,485.5 284.4,483.7 288.5,483.1 292.3,483.1 296.4,484.1 300.5,485.7 304.3,487.5 308.4,489.6 312.5,491.2 316.3,491.8 320.4,491.6 324.5,490.6 328.3,490.8 332.4,491.8 336.4,493.8 340.3,495.7 344.4,497.7 348.4,499.7 352.0,502.4 356.3,507.5 360.3,512.1 364.4,516.6 368.3,519.7 372.3,521.3 376.4,521.7 380.4,523.1 384.3,524.3 388.4,525.3 392.4,526.4 396.3,527.4 400.4,528.4 404.4,529.2 408.3,530.2 412.4,530.2 416.4,529.8 420.3,529.2 424.3,527.4 428.4,523.7 432.3,519.2 436.3,514.6 440.4,510.9 444.3,508.9 448.3,508.1 452.4,507.5 456.2,507.5 460.3,508.1 464.4,509.5 468.2,510.9 472.3,512.5 476.4,514.6 480.4,517.6 484.4,520.7 488.5,523.7 492.3,527.4 496.4,531.2 500.5,533.9 504.3,535.5 508.4,536.5 512.4,536.9 516.3,532.9 520.4,528.4 524.4,524.3 528.3,520.7 532.4,517.2 536.4,514.6 540.3,512.9 544.4,511.7 548.4,511.1 552.3,510.9 556.3,511.1 560.4,511.5 564.5,512.1 568.3,512.9 572.4,513.4 576.5,513.6 580.3,514.2 584.4,516.0 588.5,518.2 592.3,519.2 596.4,520.3 600.4,521.1 604.3,521.9 608.4,522.3 612.0,523.3" fill="none" stroke="#3cba78" stroke-width="0.92" stroke-linejoin="round"/>
<polyline points="92.5,538.3 97.1,540.0 108.3,540.0 112.4,534.9 116.4,527.8 120.5,519.7 124.6,509.5 128.6,499.3 132.3,491.8 136.4,486.1 139.8,484.1 144.5,473.9 148.4,464.8 152.4,455.6 156.5,447.5 159.5,444.1 162.2,446.5 164.8,449.5 168.3,447.5 172.3,447.5 176.4,451.6 180.5,459.7 184.3,471.9 188.4,483.1 192.5,493.2 196.3,504.4 200.4,514.6 204.4,520.7 208.3,525.7 212.4,528.4 216.4,528.8 220.3,530.2 220.0,529.8 223.0,528.8 228.1,523.3 232.2,525.3 236.3,520.7 240.3,514.6 244.4,511.5 248.4,507.5 252.5,503.8 256.6,498.7 260.6,493.2 264.3,487.1 268.4,479.0 272.4,473.9 276.3,471.9 280.4,470.3 284.4,476.0 288.5,481.0 292.3,485.1 296.4,489.2 300.5,493.2 304.3,496.3 307.8,497.9 312.5,496.3 316.3,493.2 320.4,489.2 324.5,486.5 328.3,489.8 332.4,495.3 336.4,500.3 340.3,503.4 344.4,506.4 348.4,508.9 352.0,514.6 356.3,525.7 360.3,529.8 364.4,531.8 368.3,534.5 372.3,529.8 376.4,525.3 380.4,529.4 384.3,528.4 388.4,529.8 392.4,529.2 396.3,533.3 400.4,530.4 404.4,531.4 408.3,533.3 412.4,529.8 416.4,527.8 420.3,525.7 424.3,519.7 428.4,510.5 432.3,502.4 436.3,498.7 440.4,497.3 444.3,500.3 448.3,502.4 452.4,504.4 456.2,506.4 460.3,511.5 464.4,515.0 468.2,516.2 472.3,516.6 476.4,523.7 480.4,531.2 484.4,533.3 488.5,535.3 492.3,542.0 496.4,543.4 500.5,543.4 504.3,543.4 508.4,543.4 512.4,536.9 516.3,522.7 520.4,510.5 524.4,509.9 528.3,508.9 532.4,505.4 536.4,505.4 540.3,506.4 544.4,504.0 548.4,507.5 552.3,510.1 556.3,510.5 560.4,512.5 564.5,514.6 568.3,515.2 572.4,516.2 576.5,513.6 577.9,514.2 580.3,516.6 584.4,522.3 588.5,527.2 592.3,525.1 596.4,524.3 600.4,524.3 604.3,524.3 608.4,525.7 612.0,527.4" fill="none" stroke="#2f86ee" stroke-width="0.92" stroke-linejoin="round"/>
<polyline points="92.5,637.0 96.5,641.5 100.5,637.4 104.5,643.5 108.5,638.4 112.5,627.2 116.5,621.1 120.5,615.0 124.5,603.9 128.5,596.8 132.5,595.7 136.5,602.9 140.5,609.4 144.5,589.6 148.5,584.6 152.5,575.4 156.5,579.5 160.5,578.5 164.5,615.0 168.5,599.8 172.5,598.4 176.5,610.0 180.5,626.2 184.5,636.8 188.5,641.5 192.5,643.9 196.5,647.6 200.5,657.3 204.5,655.1 208.5,645.5 212.5,653.2 216.5,640.4 220.5,644.5 224.5,637.4 228.5,618.1 232.5,641.5 236.5,622.2 240.5,613.6 244.5,623.2 248.5,612.4 252.5,619.1 256.5,608.5 260.5,607.9 264.5,599.8 268.5,588.2 272.5,595.7 276.5,604.3 280.5,602.9 284.5,629.3 288.5,628.3 292.5,622.6 296.5,629.3 300.5,632.3 304.5,640.4 308.5,627.2 312.5,614.4 316.5,609.6 320.5,601.4 324.5,608.9 328.5,628.3 332.5,636.4 336.5,646.1 340.5,631.3 344.5,637.4 348.5,640.4 352.5,645.5 356.5,666.3 360.5,657.7 364.5,647.6 368.5,656.7 372.5,627.2 376.5,622.6 380.5,646.9 384.5,635.8 388.5,643.5 392.5,638.4 396.5,650.2 400.5,631.7 404.5,641.5 408.5,643.9 412.5,627.6 416.5,632.9 420.5,630.3 424.5,613.6 428.5,604.3 432.5,602.4 436.5,615.0 440.5,618.7 444.5,629.9 448.5,631.9 452.5,633.7 456.5,636.0 460.5,648.6 464.5,647.6 468.5,640.4 472.5,635.8 476.5,664.8 480.5,667.5 484.5,652.6 488.5,653.7 492.5,670.5 496.5,653.7 500.5,650.2 504.5,650.2 508.5,655.1 512.5,624.8 516.5,593.3 520.5,591.7 524.5,630.3 528.5,623.2 532.5,616.7 536.5,626.2 540.5,630.3 544.5,621.5 548.5,634.8 552.5,636.4 556.5,633.3 560.5,632.3 564.5,641.5 568.5,637.4 572.5,637.8 576.5,622.6 580.5,641.5 584.5,652.6 588.5,656.7 592.5,633.3 596.5,634.8 600.5,639.8 604.5,639.4 608.5,646.9 612.5,648.6" fill="none" stroke="#2aa6e0" stroke-width="0.95" stroke-linejoin="round"/>
<rect x="640.5" y="365.5" width="67" height="17" fill="#fff" stroke="#ff8410" stroke-width="1" shape-rendering="crispEdges"/>
<path d="M699.5 362 L704 356.8 L708.5 362 Z M699.5 364.6 L704 360.4 L708.5 364.6 Z" fill="#ff8a1e"/>
<text x="86.1" y="26.9" font-size="12" fill="#2c2c3c" text-anchor="end" font-weight="normal" font-family="Liberation Sans, Arial, sans-serif" letter-spacing="0.2">99.80</text>
<text x="643.5" y="26.9" font-size="12" fill="#2c2c3c" text-anchor="start" font-weight="normal" font-family="Liberation Sans, Arial, sans-serif" letter-spacing="0.2">99.80</text>
<text x="86.1" y="82.9" font-size="12" fill="#2c2c3c" text-anchor="end" font-weight="normal" font-family="Liberation Sans, Arial, sans-serif" letter-spacing="0.2">92.97</text>
<text x="643.5" y="82.9" font-size="12" fill="#2c2c3c" text-anchor="start" font-weight="normal" font-family="Liberation Sans, Arial, sans-serif" letter-spacing="0.2">92.97</text>
<text x="86.1" y="138.9" font-size="12" fill="#2c2c3c" text-anchor="end" font-weight="normal" font-family="Liberation Sans, Arial, sans-serif" letter-spacing="0.2">86.14</text>
<text x="643.5" y="138.9" font-size="12" fill="#2c2c3c" text-anchor="start" font-weight="normal" font-family="Liberation Sans, Arial, sans-serif" letter-spacing="0.2">86.14</text>
<text x="86.1" y="194.9" font-size="12" fill="#2c2c3c" text-anchor="end" font-weight="normal" font-family="Liberation Sans, Arial, sans-serif" letter-spacing="0.2">79.31</text>
<text x="643.5" y="194.9" font-size="12" fill="#2c2c3c" text-anchor="start" font-weight="normal" font-family="Liberation Sans, Arial, sans-serif" letter-spacing="0.2">79.31</text>
<text x="86.1" y="250.9" font-size="12" fill="#2c2c3c" text-anchor="end" font-weight="normal" font-family="Liberation Sans, Arial, sans-serif" letter-spacing="0.2">72.48</text>
<text x="643.5" y="250.9" font-size="12" fill="#2c2c3c" text-anchor="start" font-weight="normal" font-family="Liberation Sans, Arial, sans-serif" letter-spacing="0.2">72.48</text>
<text x="86.1" y="306.9" font-size="12" fill="#2c2c3c" text-anchor="end" font-weight="normal" font-family="Liberation Sans, Arial, sans-serif" letter-spacing="0.2">65.65</text>
<text x="643.5" y="306.9" font-size="12" fill="#2c2c3c" text-anchor="start" font-weight="normal" font-family="Liberation Sans, Arial, sans-serif" letter-spacing="0.2">65.65</text>
<text x="86.1" y="362.9" font-size="12" fill="#2c2c3c" text-anchor="end" font-weight="normal" font-family="Liberation Sans, Arial, sans-serif" letter-spacing="0.2">58.82</text>
<text x="643.5" y="362.9" font-size="12" fill="#2c2c3c" text-anchor="start" font-weight="normal" font-family="Liberation Sans, Arial, sans-serif" letter-spacing="0.2">58.82</text>
<text x="86.1" y="439.8" font-size="12" fill="#2c2c3c" text-anchor="end" font-weight="normal" font-family="Liberation Sans, Arial, sans-serif" letter-spacing="0.2">3.85</text>
<text x="643.5" y="439.8" font-size="12" fill="#2c2c3c" text-anchor="start" font-weight="normal" font-family="Liberation Sans, Arial, sans-serif" letter-spacing="0.2">3.85</text>
<text x="86.1" y="462.8" font-size="12" fill="#2c2c3c" text-anchor="end" font-weight="normal" font-family="Liberation Sans, Arial, sans-serif" letter-spacing="0.2">2.34</text>
<text x="643.5" y="462.8" font-size="12" fill="#2c2c3c" text-anchor="start" font-weight="normal" font-family="Liberation Sans, Arial, sans-serif" letter-spacing="0.2">2.34</text>
<text x="86.1" y="485.8" font-size="12" fill="#2c2c3c" text-anchor="end" font-weight="normal" font-family="Liberation Sans, Arial, sans-serif" letter-spacing="0.2">0.84</text>
<text x="643.5" y="485.8" font-size="12" fill="#2c2c3c" text-anchor="start" font-weight="normal" font-family="Liberation Sans, Arial, sans-serif" letter-spacing="0.2">0.84</text>
<text x="86.1" y="508.8" font-size="12" fill="#2c2c3c" text-anchor="end" font-weight="normal" font-family="Liberation Sans, Arial, sans-serif" letter-spacing="0.2">-0.66</text>
<text x="643.5" y="508.8" font-size="12" fill="#2c2c3c" text-anchor="start" font-weight="normal" font-family="Liberation Sans, Arial, sans-serif" letter-spacing="0.2">-0.66</text>
<text x="86.1" y="531.8" font-size="12" fill="#2c2c3c" text-anchor="end" font-weight="normal" font-family="Liberation Sans, Arial, sans-serif" letter-spacing="0.2">-2.16</text>
<text x="643.5" y="531.8" font-size="12" fill="#2c2c3c" text-anchor="start" font-weight="normal" font-family="Liberation Sans, Arial, sans-serif" letter-spacing="0.2">-2.16</text>
<text x="86.1" y="577.8" font-size="12" fill="#2c2c3c" text-anchor="end" font-weight="normal" font-family="Liberation Sans, Arial, sans-serif" letter-spacing="0.2">66.64</text>
<text x="643.5" y="577.8" font-size="12" fill="#2c2c3c" text-anchor="start" font-weight="normal" font-family="Liberation Sans, Arial, sans-serif" letter-spacing="0.2">66.64</text>
<text x="86.1" y="601.8" font-size="12" fill="#2c2c3c" text-anchor="end" font-weight="normal" font-family="Liberation Sans, Arial, sans-serif" letter-spacing="0.2">58.02</text>
<text x="643.5" y="601.8" font-size="12" fill="#2c2c3c" text-anchor="start" font-weight="normal" font-family="Liberation Sans, Arial, sans-serif" letter-spacing="0.2">58.02</text>
<text x="86.1" y="625.8" font-size="12" fill="#2c2c3c" text-anchor="end" font-weight="normal" font-family="Liberation Sans, Arial, sans-serif" letter-spacing="0.2">49.39</text>
<text x="643.5" y="625.8" font-size="12" fill="#2c2c3c" text-anchor="start" font-weight="normal" font-family="Liberation Sans, Arial, sans-serif" letter-spacing="0.2">49.39</text>
<text x="86.1" y="649.8" font-size="12" fill="#2c2c3c" text-anchor="end" font-weight="normal" font-family="Liberation Sans, Arial, sans-serif" letter-spacing="0.2">40.77</text>
<text x="643.5" y="649.8" font-size="12" fill="#2c2c3c" text-anchor="start" font-weight="normal" font-family="Liberation Sans, Arial, sans-serif" letter-spacing="0.2">40.77</text>
<text x="643.5" y="378.2" font-size="12" fill="#ff8a1e" text-anchor="start" font-weight="normal" font-family="Liberation Sans, Arial, sans-serif" letter-spacing="0.2">58.19</text>
<text x="165.3" y="60.2" font-size="12" fill="#e8455c" text-anchor="start" font-weight="bold" font-family="Liberation Sans, Arial, sans-serif" letter-spacing="0.2">95.01</text>
<text x="91.1" y="429" font-size="12" fill="#111" textLength="85.9" lengthAdjust="spacingAndGlyphs" font-family="Liberation Sans, Arial, sans-serif">MACD(26,12,9)</text>
<text x="181.3" y="429" font-size="12" fill="#2f86ee" textLength="57.2" lengthAdjust="spacingAndGlyphs" font-family="Liberation Sans, Arial, sans-serif">DIFF:-2.00</text>
<text x="246.8" y="429" font-size="12" fill="#4cc088" textLength="55.1" lengthAdjust="spacingAndGlyphs" font-family="Liberation Sans, Arial, sans-serif">DEA:-1.77</text>
<text x="310.8" y="429" font-size="12" fill="#2aa6e0" textLength="68.2" lengthAdjust="spacingAndGlyphs" font-family="Liberation Sans, Arial, sans-serif">MACD:-0.45</text>
<text x="91.1" y="567" font-size="12" fill="#111" textLength="74.7" lengthAdjust="spacingAndGlyphs" font-family="Liberation Sans, Arial, sans-serif">RSI(14,14,14)</text>
<text x="170.3" y="567" font-size="12" fill="#3f8ff0" textLength="59.4" lengthAdjust="spacingAndGlyphs" font-family="Liberation Sans, Arial, sans-serif">RSI1:40.94</text>
<text x="238.7" y="567" font-size="12" fill="#4cc088" textLength="59.5" lengthAdjust="spacingAndGlyphs" font-family="Liberation Sans, Arial, sans-serif">RSI2:40.94</text>
<text x="306.4" y="567" font-size="12" fill="#2aa6e0" textLength="60.0" lengthAdjust="spacingAndGlyphs" font-family="Liberation Sans, Arial, sans-serif">RSI3:40.94</text>
<text x="218.8" y="684.2" font-size="12" fill="#222" text-anchor="start" font-weight="bold" font-family="Liberation Sans, Arial, sans-serif" letter-spacing="0.2">2024</text>
<text x="426.4" y="684.2" font-size="12" fill="#222" text-anchor="start" font-weight="bold" font-family="Liberation Sans, Arial, sans-serif" letter-spacing="0.2">2025</text>
<text x="90.8" y="16.6" font-size="12" fill="#111" font-family="Liberation Sans, Noto Sans CJK SC, sans-serif">美原油连续</text>
<text x="150.8" y="16.6" font-size="12" fill="#ff7a00" letter-spacing="0.7" font-family="Liberation Sans, Noto Sans CJK SC, sans-serif">【周线】</text>
<g stroke="#ff7a00" stroke-width="1" fill="none"><circle cx="203.6" cy="13.8" r="4.3"/><line x1="199.3" y1="13.8" x2="207.9" y2="13.8"/><line x1="203.6" y1="9.5" x2="203.6" y2="18.1"/></g>
<text x="8.8" y="19.200000000000003" font-size="13" fill="#000" text-anchor="middle" font-family="Liberation Serif, Noto Serif CJK SC, serif">分</text>
<text x="8.8" y="33.1" font-size="13" fill="#000" text-anchor="middle" font-family="Liberation Serif, Noto Serif CJK SC, serif">时</text>
<text x="8.8" y="47.1" font-size="13" fill="#000" text-anchor="middle" font-family="Liberation Serif, Noto Serif CJK SC, serif">图</text>
<text x="8.8" y="68.0" font-size="13" fill="#fff" text-anchor="middle" font-family="Liberation Serif, Noto Serif CJK SC, serif">K</text>
<text x="8.8" y="82.80000000000001" font-size="13" fill="#fff" text-anchor="middle" font-family="Liberation Serif, Noto Serif CJK SC, serif">线</text>
<text x="8.8" y="95.9" font-size="13" fill="#fff" text-anchor="middle" font-family="Liberation Serif, Noto Serif CJK SC, serif">图</text>
<text x="8.8" y="116.80000000000001" font-size="13" fill="#000" text-anchor="middle" font-family="Liberation Serif, Noto Serif CJK SC, serif">闪</text>
<text x="8.8" y="131.0" font-size="13" fill="#000" text-anchor="middle" font-family="Liberation Serif, Noto Serif CJK SC, serif">电</text>
<text x="8.8" y="145.20000000000002" font-size="13" fill="#000" text-anchor="middle" font-family="Liberation Serif, Noto Serif CJK SC, serif">图</text>
<text x="8.8" y="167.6" font-size="13" fill="#000" text-anchor="middle" font-family="Liberation Serif, Noto Serif CJK SC, serif">合</text>
<text x="8.8" y="181.8" font-size="13" fill="#000" text-anchor="middle" font-family="Liberation Serif, Noto Serif CJK SC, serif">约</text>
<text x="8.8" y="197.0" font-size="13" fill="#000" text-anchor="middle" font-family="Liberation Serif, Noto Serif CJK SC, serif">资</text>
<text x="8.8" y="211.3" font-size="13" fill="#000" text-anchor="middle" font-family="Liberation Serif, Noto Serif CJK SC, serif">料</text>
<rect x="19.5" y="671.5" width="69" height="18" fill="#fff" stroke="#c9d3e0" stroke-width="1" shape-rendering="crispEdges"/>
<text x="32.8" y="686.8" font-size="12.8" fill="#ff7a00" font-weight="bold" font-family="Liberation Sans, Noto Sans CJK SC, sans-serif">周线</text>
<path d="M63.8 686.3 L68.1 678.3 L72.4 686.3 Z" fill="#ff7a00"/>
<g stroke="#ff2020" stroke-width="1.1">
<line x1="33.3" y1="559.9" x2="35.5" y2="559.9"/>
<line x1="31.8" y1="563.6" x2="33.3" y2="565.1"/>
<line x1="28.1" y1="565.1" x2="28.1" y2="567.3"/>
<line x1="24.4" y1="563.6" x2="22.9" y2="565.1"/>
<line x1="22.9" y1="559.9" x2="20.7" y2="559.9"/>
<line x1="24.4" y1="556.2" x2="22.9" y2="554.7"/>
<line x1="28.1" y1="554.7" x2="28.1" y2="552.5"/>
<line x1="31.8" y1="556.2" x2="33.3" y2="554.7"/>
</g>
<circle cx="28.1" cy="559.9" r="3.9" fill="#fff" stroke="#111" stroke-width="1.1"/><circle cx="28.1" cy="559.9" r="2" fill="#ff2020"/>
<rect x="577.5" y="3.5" width="13" height="13" fill="#fff" stroke="#1e78d4" stroke-width="1" shape-rendering="crispEdges"/>
<rect x="593.5" y="3.5" width="13" height="13" fill="#fff" stroke="#1e78d4" stroke-width="1" shape-rendering="crispEdges"/>
<rect x="609.5" y="3.5" width="13" height="13" fill="#1e78d4" stroke="#1e78d4" stroke-width="1" shape-rendering="crispEdges"/>
<rect x="625.5" y="3.5" width="13" height="13" fill="#fff" stroke="#1e78d4" stroke-width="1" shape-rendering="crispEdges"/>
<g fill="#1e78d4" shape-rendering="crispEdges"><rect x="583" y="5" width="2" height="3"/><rect x="583" y="12" width="2" height="3"/><rect x="579" y="9" width="3" height="2"/><rect x="586" y="9" width="3" height="2"/></g>
<g stroke="#1e78d4" stroke-width="1" fill="#1e78d4" shape-rendering="crispEdges"><line x1="596.5" y1="5" x2="596.5" y2="15"/><line x1="595" y1="13.5" x2="605" y2="13.5"/><rect x="599" y="6" width="1" height="6" stroke="none"/></g>
<path d="M603.4 6.2 L603.4 12 L600.3 9.1 Z M594.8 7 L596.5 4.6 L598.2 7 Z M603 11.8 L605.6 13.5 L603 15.2 Z" fill="#1e78d4"/>
<g stroke="#fff" stroke-width="1" shape-rendering="crispEdges"><line x1="612.5" y1="5" x2="612.5" y2="15"/><line x1="611" y1="13.5" x2="621" y2="13.5"/></g>
<path d="M615.3 6 L620 9.2 L615.3 12.4 Z M610.8 7 L612.5 4.6 L614.2 7 Z M619 11.8 L621.6 13.5 L619 15.2 Z" fill="#fff"/>
<rect x="627.5" y="5.5" width="3" height="9" fill="none" stroke="#1e78d4" stroke-width="1" shape-rendering="crispEdges"/>
<path d="M630 8.6 L633.8 8.6 L633.8 6.8 L637.2 9.6 L633.8 12.4 L633.8 10.6 L630 10.6 Z" fill="#1e78d4"/>
<rect x="472" y="688" width="142" height="1" fill="#d9dde3" shape-rendering="crispEdges"/>
<text x="580.6" y="665.4" font-size="30.5" letter-spacing="2.3" fill="#8f705c" fill-opacity="0.5" font-family="Liberation Sans, Arial, sans-serif">FX678</text>
<text x="579.6" y="664.4" font-size="30.5" letter-spacing="2.3" fill="#dde7f5" stroke="#dde7f5" stroke-width="0.5" font-family="Liberation Sans, Arial, sans-serif">FX678</text>
</svg>
</body></html>
